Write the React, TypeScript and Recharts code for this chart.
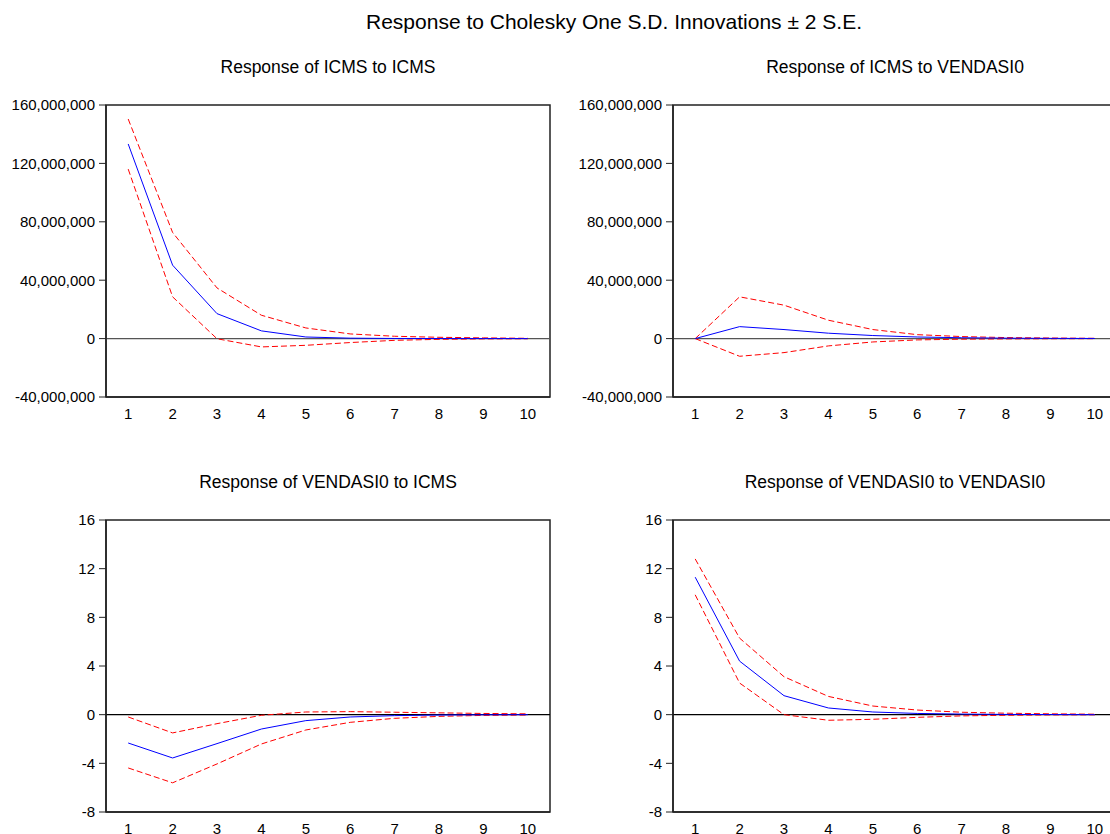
import React from "react";
import { LineChart, Line, XAxis, YAxis, ReferenceLine, ReferenceArea } from "recharts";

const periods = [1, 2, 3, 4, 5, 6, 7, 8, 9, 10];
const periodEdges = [0.5, 1.5, 2.5, 3.5, 4.5, 5.5, 6.5, 7.5, 8.5, 9.5, 10.5];

const mainTitle = "Response to Cholesky One S.D. Innovations \u00b1 2 S.E.";

// Response of ICMS to ICMS
const icmsIcmsResp = [133.3e6, 50.3e6, 17.1e6, 5.3e6, 1.1e6, 0.3e6, 0.1e6, 0.05e6, 0.02e6, 0.01e6];
const icmsIcmsUpper = [150.4e6, 72.7e6, 34.7e6, 16.0e6, 7.3e6, 3.2e6, 1.6e6, 0.9e6, 0.5e6, 0.2e6];
const icmsIcmsLower = [116.1e6, 28.6e6, -0.1e6, -5.7e6, -4.6e6, -2.7e6, -1.2e6, -0.5e6, -0.2e6, -0.1e6];

// Response of ICMS to VENDASI0
const icmsVendResp = [0, 8.2e6, 6.2e6, 3.7e6, 2.1e6, 1.1e6, 0.6e6, 0.3e6, 0.15e6, 0.1e6];
const icmsVendUpper = [0, 28.6e6, 22.9e6, 12.6e6, 6.2e6, 2.7e6, 1.4e6, 0.7e6, 0.4e6, 0.2e6];
const icmsVendLower = [0, -12.1e6, -9.6e6, -5.0e6, -2.3e6, -0.9e6, -0.4e6, -0.2e6, -0.1e6, -0.05e6];

// Response of VENDASI0 to ICMS
const vendIcmsResp = [-2.33, -3.56, -2.38, -1.18, -0.49, -0.19, -0.08, -0.03, -0.01, 0];
const vendIcmsUpper = [-0.19, -1.5, -0.74, -0.05, 0.22, 0.25, 0.2, 0.15, 0.1, 0.07];
const vendIcmsLower = [-4.38, -5.6, -4.05, -2.41, -1.26, -0.63, -0.3, -0.14, -0.06, -0.03];

// Response of VENDASI0 to VENDASI0
const vendVendResp = [11.3, 4.4, 1.56, 0.55, 0.22, 0.1, 0.05, 0.02, 0.01, 0];
const vendVendUpper = [12.8, 6.29, 3.12, 1.5, 0.71, 0.38, 0.2, 0.12, 0.07, 0.04];
const vendVendLower = [9.85, 2.6, 0.0, -0.46, -0.38, -0.22, -0.1, -0.05, -0.02, -0.01];

const icmsTicks = [-40000000, 0, 40000000, 80000000, 120000000, 160000000];
const vendTicks = [-8, -4, 0, 4, 8, 12, 16];

const FONT = "'Liberation Sans', Arial, Helvetica, sans-serif";

function build(resp: number[], up: number[], lo: number[]) {
  return periods.map((p, i) => ({ period: p, resp: resp[i], upper: up[i], lower: lo[i] }));
}

const fmt = (v: number) => v.toLocaleString("en-US");

function YTick(props: any) {
  const { x, y, payload } = props;
  return (
    <text
      x={x}
      y={y}
      dy="0.36em"
      textAnchor="end"
      fontSize={15}
      fontFamily={FONT}
      fill="#000"
    >
      {fmt(payload.value)}
    </text>
  );
}

function XTick(props: any) {
  const { x, y, payload } = props;
  return (
    <text
      x={x}
      y={y}
      dy="0.71em"
      textAnchor="middle"
      fontSize={15}
      fontFamily={FONT}
      fill="#000"
    >
      {String(payload.value)}
    </text>
  );
}

type PanelProps = {
  left: number;
  top: number;
  title: string;
  titleTop: number;
  data: { period: number; resp: number; upper: number; lower: number }[];
  ticks: number[];
  zeroColor: string;
};

function Panel({ left, top, title, titleTop, data, ticks, zeroColor }: PanelProps) {
  const yMin = ticks[0];
  const yMax = ticks[ticks.length - 1];
  return (
    <>
      <div
        style={{
          position: "absolute",
          left: left + 106,
          width: 444,
          top: titleTop,
          textAlign: "center",
          fontSize: 17.5,
          fontFamily: FONT,
          color: "#000",
          lineHeight: "20px",
          whiteSpace: "nowrap",
        }}
      >
        {title}
      </div>
      <div style={{ position: "absolute", left, top }}>
        <LineChart
          width={570}
          height={336}
          data={data}
          margin={{ top: 10, right: 20, bottom: 0, left: 0 }}
          style={{ fontFamily: FONT }}
        >
          <XAxis
            xAxisId="b"
            dataKey="period"
            type="number"
            domain={[0.5, 10.5]}
            ticks={periodEdges}
            tick={false}
            tickSize={6}
            height={1}
            axisLine={{ stroke: "#222", strokeWidth: 1.5 }}
            tickLine={{ stroke: "#222", strokeWidth: 1 }}
          />
          <XAxis
            xAxisId="l"
            dataKey="period"
            type="number"
            domain={[0.5, 10.5]}
            ticks={periods}
            tickSize={0}
            tickMargin={10}
            height={33}
            axisLine={false}
            tickLine={false}
            tick={<XTick />}
          />
          <YAxis
            type="number"
            domain={[yMin, yMax]}
            ticks={ticks}
            width={106}
            tickSize={7}
            tickMargin={4}
            interval={0}
            axisLine={{ stroke: "#222", strokeWidth: 1.5 }}
            tickLine={{ stroke: "#222", strokeWidth: 1 }}
            tick={<YTick />}
          />
          <ReferenceArea
            xAxisId="b"
            x1={0.5}
            x2={10.5}
            y1={yMin}
            y2={yMax}
            fill="none"
            stroke="#222"
            strokeWidth={1.5}
            ifOverflow="visible"
          />
          <ReferenceLine xAxisId="b" y={0} stroke={zeroColor} strokeWidth={1.2} />
          <Line
            xAxisId="b"
            dataKey="upper"
            type="linear"
            stroke="#ff0000"
            strokeWidth={1}
            strokeDasharray="6 3"
            dot={false}
            isAnimationActive={false}
          />
          <Line
            xAxisId="b"
            dataKey="lower"
            type="linear"
            stroke="#ff0000"
            strokeWidth={1}
            strokeDasharray="6 3"
            dot={false}
            isAnimationActive={false}
          />
          <Line
            xAxisId="b"
            dataKey="resp"
            type="linear"
            stroke="#0000ff"
            strokeWidth={1}
            dot={false}
            isAnimationActive={false}
          />
        </LineChart>
      </div>
    </>
  );
}

export default function App() {
  return (
    <div
      style={{
        position: "absolute",
        left: 0,
        top: 0,
        width: 1110,
        height: 834,
        overflow: "hidden",
        background: "#fff",
      }}
    >
      <div
        style={{
          position: "absolute",
          left: 0,
          width: 1228,
          top: 10,
          textAlign: "center",
          fontSize: 21,
          fontFamily: FONT,
          color: "#000",
          lineHeight: "24px",
          whiteSpace: "nowrap",
        }}
      >
        {mainTitle}
      </div>
      <Panel
        left={0}
        top={95}
        title="Response of ICMS to ICMS"
        titleTop={57}
        data={build(icmsIcmsResp, icmsIcmsUpper, icmsIcmsLower)}
        ticks={icmsTicks}
        zeroColor="#555"
      />
      <Panel
        left={567}
        top={95}
        title="Response of ICMS to VENDASI0"
        titleTop={57}
        data={build(icmsVendResp, icmsVendUpper, icmsVendLower)}
        ticks={icmsTicks}
        zeroColor="#555"
      />
      <Panel
        left={0}
        top={510}
        title="Response of VENDASI0 to ICMS"
        titleTop={472}
        data={build(vendIcmsResp, vendIcmsUpper, vendIcmsLower)}
        ticks={vendTicks}
        zeroColor="#000"
      />
      <Panel
        left={567}
        top={510}
        title="Response of VENDASI0 to VENDASI0"
        titleTop={472}
        data={build(vendVendResp, vendVendUpper, vendVendLower)}
        ticks={vendTicks}
        zeroColor="#000"
      />
    </div>
  );
}
